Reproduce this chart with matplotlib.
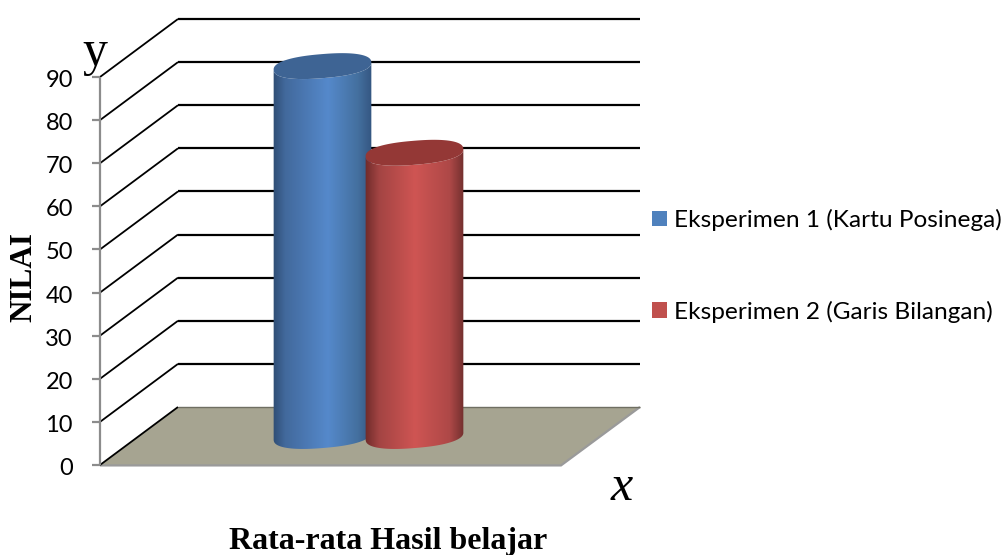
import numpy as np
import matplotlib
matplotlib.use("Agg")
import matplotlib.pyplot as plt
from matplotlib.colors import LinearSegmentedColormap
from matplotlib.patches import Patch, Polygon

series = ["Eksperimen 1 (Kartu Posinega)", "Eksperimen 2 (Garis Bilangan)"]
values = [85.8, 65.7]
y_ticks = [0, 10, 20, 30, 40, 50, 60, 70, 80, 90]
xlabel = "Rata-rata Hasil belajar"
ylabel = "NILAI"

W, H = 1005, 555
fig = plt.figure(figsize=(W / 100, H / 100), dpi=100)
ax = fig.add_axes([0, 0, 1, 1])
ax.axis("off")
PX = 388 / 90          # pixels per value unit
Y0 = 465               # pixel row of value 0
ax.set_xlim(0, W)
ax.set_ylim(-(H - Y0) / PX, Y0 / PX)

X0, X1 = 100, 561      # front edge of floor
DX, DY = 78, 58 / PX   # depth offset


def line(xs, ys, **kw):
    ax.plot(xs, ys, solid_capstyle="butt", solid_joinstyle="miter", **kw)


# floor
ax.add_patch(Polygon([(X0, 0), (X1, 0), (X1 + DX + 1, DY), (X0 + DX, DY)],
                     closed=True, fc="#a6a491", ec="none", zorder=1))
line([X0, X1, X1 + DX + 1], [-0.1, -0.1, DY], color="#9a9a9a", lw=1.6, zorder=1.5)
line([X0 + DX, X1 + DX + 1], [DY, DY], color="#6f6f62", lw=1.0, zorder=1.5)

# gridlines
for t in y_ticks:
    if t == 0:
        line([X0, X0 + DX], [0, DY], color="black", lw=1.3, zorder=2)
    else:
        line([X0, X0 + DX], [t, t + DY], color="black", lw=1.3, zorder=2)
        line([X0 + DX, X1 + DX + 1], [t + DY, t + DY], color="black", lw=1.6, zorder=2)

# value axis
line([X0, X0], [0, y_ticks[-1]], color="#8c8c8c", lw=1.6, zorder=3)
for t in y_ticks:
    line([X0 - 8, X0], [t, t], color="#8c8c8c", lw=1.6, zorder=3)
    ax.text(X0 - 27, t - 0.8, str(t), ha="right", va="center", fontsize=17,
            family="Lato", color="black", zorder=3)


def ellipse_pts(cx, cv, t):
    a, b, tilt = 49.0, 12.0, np.radians(4.7)
    c, s = np.cos(t), np.sin(t)
    ex = a * np.sign(c) * np.abs(c) ** 0.85
    ey = b * np.sign(s) * np.abs(s) ** 0.85
    px = ex * np.cos(tilt) - ey * np.sin(tilt)
    py = ex * np.sin(tilt) + ey * np.cos(tilt)
    return cx + px, cv + py / PX


def cylinder(cx, val, stops, top_col, z):
    base = 29.0 / PX    # base sits part-way into the floor depth
    t_lo = np.linspace(np.pi, np.pi * 2, 80)
    bx, by = ellipse_pts(cx, base, t_lo)
    tx, ty = ellipse_pts(cx, base + val, t_lo[::-1])
    outline = np.column_stack([np.r_[bx, tx], np.r_[by, ty]])
    poly = Polygon(outline, closed=True, transform=ax.transData, fc="none", ec="none")
    ax.add_patch(poly)
    cmap = LinearSegmentedColormap.from_list("c", stops)
    im = ax.imshow(np.linspace(0, 1, 256)[None, :], cmap=cmap, aspect="auto",
                   extent=[cx - 50, cx + 50, -1, base + val + 5], zorder=z, origin="lower")
    im.set_clip_path(poly)
    ex, ey = ellipse_pts(cx, base + val, np.linspace(0, 2 * np.pi, 160))
    ax.fill(ex, ey, color=top_col, lw=0, zorder=z + 0.1)


blue = [(0.0, "#2f4d74"), (0.12, "#42699c"), (0.55, "#5589cb"), (0.85, "#44709f"), (1.0, "#33547f")]
red = [(0.0, "#6f2b2a"), (0.14, "#a34443"), (0.5, "#cf5553"), (0.85, "#ad4847"), (1.0, "#6f2e2d")]
cylinder(322.5, values[0], blue, "#3e6494", 4)
cylinder(414.5, values[1], red, "#943836", 5)
ax.set_xlim(0, W)
ax.set_ylim(-(H - Y0) / PX, Y0 / PX)

# legend
handles = [Patch(fc="#4f81bd", ec="none"), Patch(fc="#c0504d", ec="none")]
leg = ax.legend(handles, series, loc="center left", bbox_to_anchor=(652 / W, 1 - 266 / H),
                frameon=False, prop={"family": "Lato", "size": 17.6}, labelspacing=2.85,
                handlelength=0.62, handleheight=0.62, handletextpad=0.27,
                borderpad=0, borderaxespad=0)
for txt in leg.get_texts():
    txt.set_color("black")

# labels
ax.text(388, -(541 - Y0) / PX, xlabel, ha="center", va="center", fontsize=23,
        family="Liberation Serif", weight="bold")
ax.text(24, (Y0 - 277) / PX, ylabel, ha="center", va="center", rotation=90, fontsize=22.5,
        family="Liberation Serif", weight="bold")
ax.text(95, (Y0 - 53) / PX, "y", ha="center", va="center", fontsize=36,
        family="Liberation Serif")
ax.text(622, (Y0 - 488) / PX, "x", ha="center", va="center", fontsize=36,
        family="Liberation Serif", style="italic")

fig.savefig("out.png", dpi=100, facecolor="white")
